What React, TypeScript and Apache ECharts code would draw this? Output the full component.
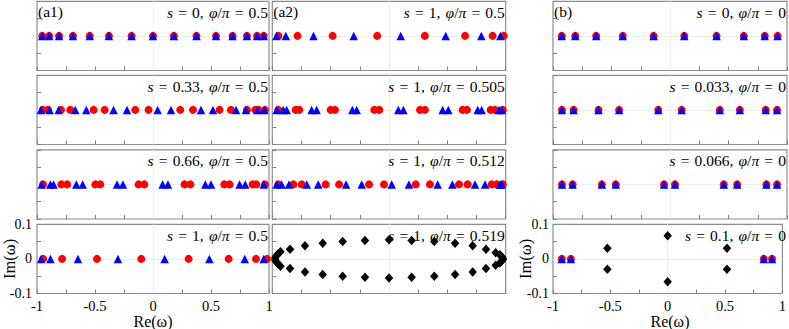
import React, { useEffect, useRef } from "react";
import * as echarts from "echarts";

// ---------- data (Re(ω) values; Im = 0 unless given) ----------
const a1S0 = [-0.955, -0.895, -0.81, -0.69, -0.545, -0.38, -0.185, 0, 0.18, 0.375, 0.543, 0.686, 0.81, 0.897, 0.955];
const a1S033Red = [-0.95, -0.905, -0.793, -0.713, -0.512, -0.417, -0.153, -0.038, 0.235, 0.345, 0.574, 0.672, 0.81, 0.882, 0.91, 0.965];
const a1S033Blue = [-0.966, -0.891, -0.813, -0.67, -0.575, -0.34, -0.224, 0.04, 0.155, 0.414, 0.517, 0.716, 0.8, 0.9, 0.959];
const a1S066Red = [-0.948, -0.79, -0.74, -0.497, -0.454, -0.124, -0.075, 0.272, 0.322, 0.615, 0.66, 0.859, 0.89, 0.965];
const a1S066Blue = [-0.96, -0.885, -0.857, -0.661, -0.606, -0.31, -0.259, 0.083, 0.129, 0.451, 0.5, 0.747, 0.795, 0.954];
const s1Red = [-0.947, -0.784, -0.483, -0.101, 0.307, 0.652, 0.888, 0.983];
const s1Blue = [-0.964, -0.884, -0.647, -0.302, 0.1, 0.486, 0.791, 0.954];
const a2P505Red = [-0.948, -0.8, -0.769, -0.5, -0.463, -0.126, -0.083, 0.266, 0.308, 0.631, 0.668, 0.871, 0.908, 0.975];
const a2P505Blue = [-0.962, -0.906, -0.877, -0.663, -0.62, -0.314, -0.277, 0.08, 0.123, 0.46, 0.508, 0.76, 0.794, 0.943, 0.966];
const a2P512Red = [-0.948, -0.82, -0.748, -0.543, -0.428, -0.171, -0.043, 0.229, 0.351, 0.6, 0.674, 0.88, 0.923, 0.975];
const a2P512Blue = [-0.962, -0.92, -0.857, -0.705, -0.606, -0.368, -0.234, 0.023, 0.171, 0.417, 0.543, 0.737, 0.823, 0.951, 0.966];
const a2P519Re = [
  -0.975, -0.965, -0.95, -0.93, -0.848, -0.72, -0.568, -0.397, -0.206, 0, 0.194, 0.388, 0.566, 0.717, 0.831, 0.914, 0.95, 0.965, 0.975,
  -0.975, -0.965, -0.95, -0.93, -0.848, -0.72, -0.568, -0.397, -0.206, 0, 0.194, 0.388, 0.566, 0.717, 0.831, 0.914, 0.95, 0.965, 0.975,
];
const a2P519Im = [
  0.003, 0.009, 0.015, 0.021, 0.028, 0.038, 0.045, 0.05, 0.053, 0.055, 0.053, 0.05, 0.045, 0.038, 0.028, 0.018, 0.012, 0.007, 0.002,
  -0.003, -0.009, -0.015, -0.021, -0.028, -0.038, -0.045, -0.05, -0.053, -0.055, -0.053, -0.05, -0.045, -0.038, -0.028, -0.018, -0.012, -0.007, -0.002,
];
const bS0 = [-0.925, -0.81, -0.631, -0.404, -0.14, 0.122, 0.398, 0.631, 0.81, 0.92];
const bS033 = [-0.923, -0.824, -0.611, -0.435, -0.1, 0.1, 0.426, 0.597, 0.818, 0.915];
const bS066 = [-0.923, -0.832, -0.582, -0.463, -0.051, 0.043, 0.46, 0.574, 0.824, 0.915];
const bS01 = [-0.923, -0.844, 0.838, 0.91];
const bS01DiaRe = [-0.526, -0.526, 0, 0, 0.517, 0.517];
const bS01DiaIm = [0.031, -0.03, 0.067, -0.066, 0.031, -0.03];

const xTicks = ["-1", "-0.5", "0", "0.5", "1"];
const yTicks = ["-0.1", "0", "0.1"];

const panelS = ["0", "1", "0", "0.33", "1", "0.033", "0.66", "1", "0.066", "1", "1", "0.1"];
const panelPhi = ["0.5", "0.5", "0", "0.5", "0.505", "0", "0.5", "0.512", "0", "0.5", "0.519", "0"];
const panelTags = ["(a1)", "(a2)", "(b)"];

// panel contents: [red, blue, diamondsRe, diamondsIm]
const panels: Array<[number[], number[], number[], number[]]> = [
  [a1S0, a1S0, [], []], [s1Red, s1Blue, [], []], [bS0, bS0, [], []],
  [a1S033Red, a1S033Blue, [], []], [a2P505Red, a2P505Blue, [], []], [bS033, bS033, [], []],
  [a1S066Red, a1S066Blue, [], []], [a2P512Red, a2P512Blue, [], []], [bS066, bS066, [], []],
  [s1Red, s1Blue, [], []], [[], [], a2P519Re, a2P519Im], [bS01, bS01, bS01DiaRe, bS01DiaIm],
];

const FONT = "'Liberation Serif', 'DejaVu Serif', serif";
const colLeft = [37, 272.3, 553];
const colWidth = [232, 233.4, 234];
const rowTop = [1.3, 75.3, 149.8, 224.3];
const rowHeight = 69.2;
const SP = "\u2004"; // math-like spacing around "="

function fmtX(v: number) {
  const k = Math.round(v * 2);
  if (Math.abs(v * 2 - k) > 1e-6) return "";
  return xTicks[k + 2] ?? "";
}
function fmtY(v: number) {
  const k = Math.round(v * 10);
  if (Math.abs(v * 10 - k) > 1e-6) return "";
  return yTicks[k + 1] ?? "";
}

export default function App() {
  const ref = useRef<HTMLDivElement>(null);
  useEffect(() => {
    if (!ref.current) return;
    const chart = echarts.init(ref.current, null, { renderer: "svg" });
    const grid: any[] = [];
    const xAxis: any[] = [];
    const yAxis: any[] = [];
    const series: any[] = [];
    const title: any[] = [];
    const graphic: any[] = [];
    const tickColor = "#808080";
    for (let r = 0; r < 4; r++) {
      for (let c = 0; c < 3; c++) {
        const i = r * 3 + c;
        const showLab = r === 3 && c !== 1;
        grid.push({
          left: colLeft[c], top: rowTop[r], width: colWidth[c], height: rowHeight,
          show: true, borderColor: "#8c8c8c", borderWidth: 1.2, backgroundColor: "#fff",
        });
        xAxis.push({
          type: "value", gridIndex: i, min: -1, max: 1, interval: 0.25, position: "bottom",
          axisLine: { show: false, onZero: false },
          axisTick: { show: true, inside: true, length: 4, lineStyle: { color: tickColor, width: 1 } },
          splitLine: { show: false },
          axisLabel: { show: showLab, formatter: fmtX, color: "#000", fontFamily: FONT, fontSize: 14.5, margin: 5, showMinLabel: true, showMaxLabel: true },
        });
        yAxis.push({
          type: "value", gridIndex: i, min: -0.1, max: 0.1, interval: 0.05, position: "left",
          axisLine: { show: false, onZero: false },
          axisTick: { show: true, inside: true, length: 4, lineStyle: { color: tickColor, width: 1 } },
          splitLine: { show: false },
          axisLabel: { show: showLab, formatter: fmtY, color: "#000", fontFamily: FONT, fontSize: 14, margin: c === 2 ? 4 : 5, showMinLabel: true, showMaxLabel: true },
        });
        if (showLab) {
          const cx = colLeft[c] + colWidth[c] / 2;
          graphic.push({
            type: "text", x: cx, y: 321,
            style: { text: "Re(ω)", font: `16px ${FONT}`, fill: "#000", align: "center", verticalAlign: "middle", textAlign: "center", textVerticalAlign: "middle" },
          });
          graphic.push({
            type: "text", x: colLeft[c] - 27.5, y: rowTop[r] + rowHeight / 2, rotation: Math.PI / 2,
            style: { text: "Im(ω)", font: `16.5px ${FONT}`, fill: "#000", align: "center", verticalAlign: "middle", textAlign: "center", textVerticalAlign: "middle" },
          });
        }
        const [red, blue, dRe, dIm] = panels[i];
        series.push({
          type: "scatter", xAxisIndex: i, yAxisIndex: i, data: [], z: 1, silent: true,
          markLine: {
            silent: true, symbol: "none", label: { show: false }, z: 1,
            lineStyle: { color: "#efefef", width: 1, type: "solid" },
            data: [{ xAxis: 0 }, { yAxis: 0 }],
          },
        });
        series.push({
          type: "scatter", xAxisIndex: i, yAxisIndex: i, z: 10,
          symbol: "circle", symbolSize: 8, itemStyle: { color: "#ff0000", opacity: 1 },
          data: red.map((x) => [x, 0]),
        });
        series.push({
          type: "scatter", xAxisIndex: i, yAxisIndex: i, z: 11,
          symbol: "triangle", symbolSize: [8.5, 8.5], itemStyle: { color: "#0000ff", opacity: 1 },
          data: blue.map((x) => [x, 0]),
        });
        if (dRe.length) {
          series.push({
            type: "scatter", xAxisIndex: i, yAxisIndex: i, z: 12,
            symbol: "diamond", symbolSize: [8.5, 9.5], itemStyle: { color: "#000", opacity: 1 },
            data: dRe.map((x, k) => [x, dIm[k]]),
          });
        }
        title.push({
          text: `{i|s}${SP}=${SP}${panelS[i]},${SP}{i|φ}/{i|π}${SP}=${SP}${panelPhi[i]}`,
          right: 789 - (colLeft[c] + colWidth[c]) + 1,
          top: rowTop[r] + 3,
          padding: 0,
          textStyle: {
            color: "#000", fontFamily: FONT, fontSize: 15.5, fontWeight: "normal",
            rich: { i: { fontStyle: "italic", fontFamily: FONT, fontSize: 15.5, color: "#000" } },
          },
        });
        if (r === 0) {
          title.push({
            text: panelTags[c], left: colLeft[c] + 1, top: rowTop[r] + 2, padding: 0,
            textStyle: { color: "#000", fontFamily: FONT, fontSize: 15.5, fontWeight: "normal" },
          });
        }
      }
    }
    chart.setOption({
      animation: false,
      backgroundColor: "#fff",
      title, grid, xAxis, yAxis, series, graphic,
    });
    return () => chart.dispose();
  }, []);
  return <div ref={ref} style={{ position: "fixed", left: 0, top: 0, width: 789, height: 329, background: "#fff" }} />;
}
